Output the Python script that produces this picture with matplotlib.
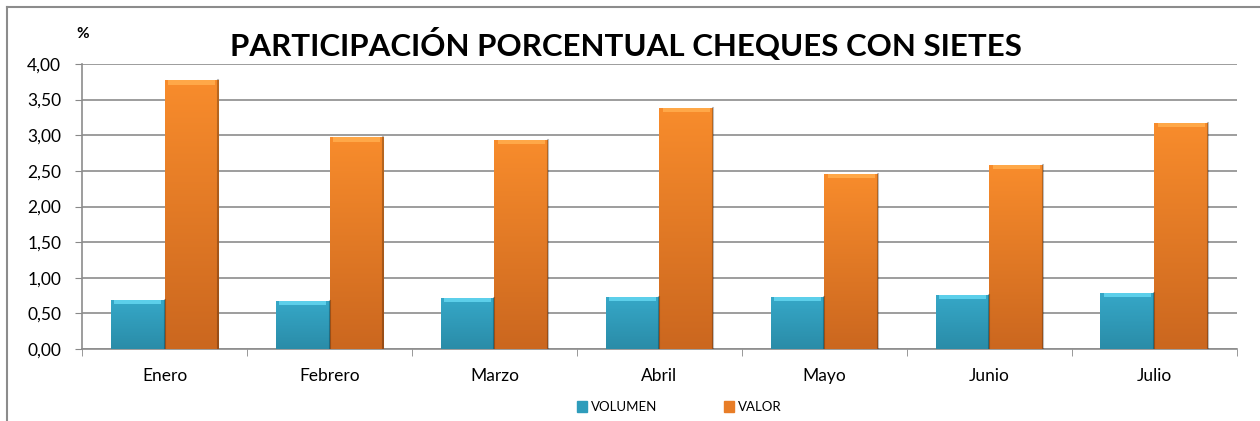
import numpy as np
import matplotlib.pyplot as plt
from matplotlib.colors import LinearSegmentedColormap
from matplotlib.lines import Line2D

meses = ['Enero', 'Febrero', 'Marzo', 'Abril', 'Mayo', 'Junio', 'Julio']
volumen = [0.69, 0.68, 0.72, 0.73, 0.73, 0.76, 0.79]
valor = [3.77, 2.97, 2.94, 3.38, 2.46, 2.58, 3.17]
yticks = [0, 0.5, 1, 1.5, 2, 2.5, 3, 3.5, 4]

plt.rcParams['font.family'] = ['Lato', 'DejaVu Sans']

fig = plt.figure(figsize=(12.6, 4.21), dpi=100)
ax = fig.add_axes([0.0651, 0.171, 0.9166, 0.677])

x = np.arange(len(meses))
w = 0.327
b1 = ax.bar(x - w / 2, volumen, w, color='#2E9CBB', zorder=3, label='VOLUMEN')
b2 = ax.bar(x + w / 2, valor, w, color='#E87D27', zorder=3, label='VALOR')

# shading to imitate the bevelled excel bars
cm_vol = LinearSegmentedColormap.from_list('v', ['#2A8CA8', '#36A8C8'])
cm_val = LinearSegmentedColormap.from_list('o', ['#CB671F', '#F88C2C'])
grad = np.linspace(0, 1, 100).reshape(-1, 1)
for bars, cm, top in [(b1, cm_vol, '#5CCFEA'), (b2, cm_val, '#FFA848')]:
    for p in bars:
        x0, y0 = p.get_x(), p.get_y()
        bw, bh = p.get_width(), p.get_height()
        im = ax.imshow(grad, extent=[x0, x0 + bw, y0, y0 + bh], origin='lower',
                       aspect='auto', cmap=cm, zorder=3.5)
        im.set_clip_path(p)
        ax.fill_between([x0 + bw * 0.07, x0 + bw * 0.93], y0 + bh - 0.06, y0 + bh,
                        color=top, zorder=3.6, linewidth=0)
        ax.plot([x0 + bw, x0 + bw], [y0, y0 + bh], color='#00000040', lw=1.5, zorder=3.7)

ax.set_xlim(-0.5, len(meses) - 0.5)
ax.set_ylim(0, 4)
ax.set_yticks(yticks)
ax.set_yticklabels([f'{v:.2f}'.replace('.', ',') for v in yticks], fontsize=12.5)
ax.set_xticks(x)
ax.set_xticklabels(meses, fontsize=12.5)
ax.tick_params(axis='x', length=0, pad=14)
ax.set_xticks(np.arange(len(meses) + 1) - 0.5, minor=True)
ax.tick_params(axis='x', which='minor', length=5, color='#888888')
ax.tick_params(axis='y', length=5, color='#888888', pad=10)
ax.yaxis.grid(True, color='#8C8C8C', lw=1.2, zorder=0)
for s in ['top', 'right']:
    ax.spines[s].set_visible(False)
for s in ['left', 'bottom']:
    ax.spines[s].set_color('#8C8C8C')
    ax.spines[s].set_linewidth(1.2)

fig.text(0.497, 0.895, 'PARTICIPACIÓN PORCENTUAL CHEQUES CON SIETES',
         ha='center', va='center', fontsize=22.5, fontweight='bold')
fig.text(0.066, 0.92, '%', ha='center', va='center', fontsize=11, fontweight='bold')

leg = fig.legend(handles=[plt.Rectangle((0, 0), 1, 1, color='#2E9CBB'),
                          plt.Rectangle((0, 0), 1, 1, color='#E87D27')],
                 labels=['VOLUMEN', 'VALOR'], loc='center', bbox_to_anchor=(0.539, 0.033),
                 ncol=2, frameon=False, fontsize=9.5, handlelength=0.8, handleheight=0.8,
                 columnspacing=5, handletextpad=0.3)

# chart border
fig.add_artist(Line2D([7 / 1260, 7 / 1260], [0, 1 - 7 / 421], color='#8C8C8C', lw=1.5))
fig.add_artist(Line2D([7 / 1260, 1], [1 - 7 / 421, 1 - 7 / 421], color='#8C8C8C', lw=1.5))

fig.savefig('out.png', dpi=100)
